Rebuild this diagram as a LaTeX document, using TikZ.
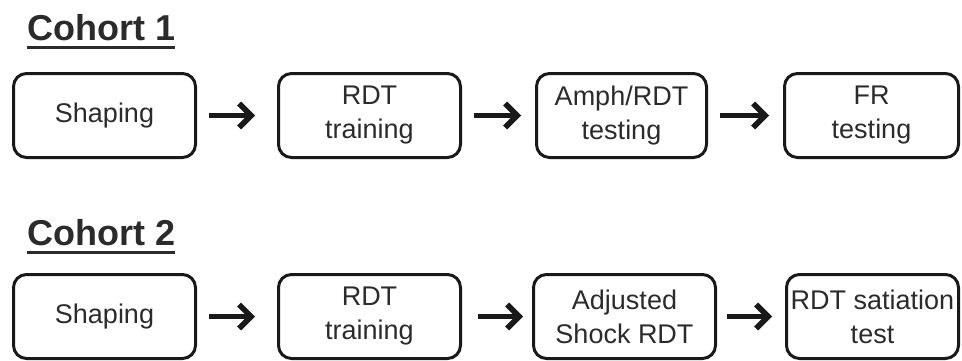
\documentclass[tikz,border=0pt]{standalone}
\usepackage{fontspec}
\setmainfont{Liberation Sans}
\usetikzlibrary{positioning, arrows.meta}
\definecolor{inkgray}{HTML}{2B2B2B}

\begin{document}
\begin{tikzpicture}[x=1pt, y=1pt,
        stage/.style={draw=black!90, line width=3pt, rounded corners=13pt, minimum width=182pt, minimum height=84pt, align=center, text=inkgray, font=\fontsize{27}{34}\selectfont},
        cohort/.style={inner sep=0, anchor=base west, text=inkgray, font=\fontsize{36}{40}\selectfont\bfseries},
        flow/.style={line width=5.5pt, draw=black!90, -{Straight Barb[length=12pt, width=24pt, sharp]}, shorten <=12pt, shorten >=14pt}]
        \useasboundingbox (0,0) rectangle (962,360);

        \node[cohort] (cohortA) at (27,320) {Cohort 1};
        \draw[line width=3pt, inkgray] ([yshift=-7pt]cohortA.base west) -- ([yshift=-7pt]cohortA.base east);

        \node[stage] (shapeA) at (104.5,244.5) {Shaping};
        \node[stage, right=80pt of shapeA] (rdtA) {RDT\\training};
        \node[stage, right=73pt of rdtA, minimum width=170pt] (amphA) {Amph/RDT\\testing};
        \node[stage, right=75pt of amphA, minimum width=174pt] (frA) {FR\\testing};

        \draw[flow, shorten >=22pt] (shapeA) -- (rdtA);
        \draw[flow] (rdtA) -- (amphA);
        \draw[flow] (amphA) -- (frA);

        \node[cohort] (cohortB) at (27,115) {Cohort 2};
        \draw[line width=3pt, inkgray] ([yshift=-7pt]cohortB.base west) -- ([yshift=-7pt]cohortB.base east);

        \node[stage] (shapeB) at (104.5,43.5) {Shaping};
        \node[stage, right=80pt of shapeB] (rdtB) {RDT\\training};
        \node[stage, right=70pt of rdtB] (adjB) {Adjusted\\Shock RDT};
        \node[stage, right=68pt of adjB, minimum width=172pt] (satB) {RDT satiation\\test};

        \draw[flow, shorten >=22pt] (shapeB) -- (rdtB);
        \draw[flow, shorten <=16pt, shorten >=9pt] (rdtB) -- (adjB);
        \draw[flow, shorten <=10pt, shorten >=13pt] (adjB) -- (satB);
    \end{tikzpicture}
\end{document}
